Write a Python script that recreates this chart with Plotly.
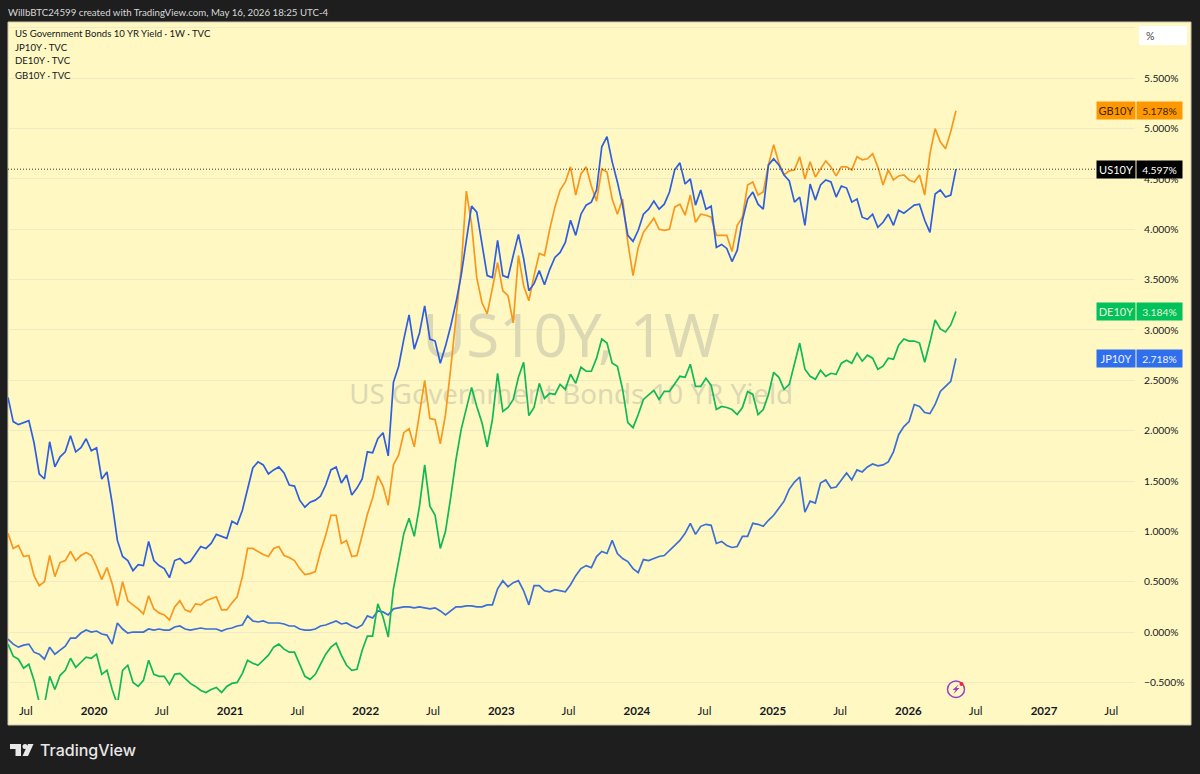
import pandas as pd
import plotly.graph_objects as go

first_date = "2019-05-14"
last_date = "2026-05-09"

us10y = [2.33,2.09,2.06,2.08,2.10,1.88,1.57,1.52,1.89,1.64,
         1.74,1.79,1.95,1.79,1.83,1.92,1.80,1.83,1.52,1.59,
         1.28,0.91,0.75,0.71,0.61,0.67,0.66,0.90,0.71,0.66,
         0.63,0.54,0.71,0.73,0.68,0.70,0.78,0.85,0.83,0.88,
         0.97,0.95,0.93,1.10,1.07,1.21,1.43,1.63,1.69,1.66,
         1.57,1.61,1.64,1.58,1.46,1.45,1.31,1.24,1.29,1.31,
         1.35,1.46,1.61,1.64,1.48,1.56,1.36,1.43,1.52,1.79,
         1.78,1.92,1.98,1.75,2.48,2.64,2.91,3.15,2.81,2.97,
         3.24,2.91,2.89,2.67,2.84,3.04,3.27,3.54,3.89,4.23,
         4.17,3.85,3.54,3.52,3.89,3.54,3.52,3.74,3.95,3.71,
         3.39,3.46,3.59,3.45,3.60,3.72,3.77,3.87,4.09,3.94,
         4.15,4.24,4.27,4.39,4.82,4.92,4.67,4.47,4.24,3.94,
         3.88,3.99,4.15,4.20,4.28,4.20,4.25,4.37,4.59,4.66,
         4.45,4.50,4.24,4.39,4.20,4.23,3.82,3.85,3.81,3.68,
         3.79,4.09,4.30,4.37,4.25,4.20,4.64,4.70,4.64,4.54,
         4.48,4.27,4.32,4.04,4.45,4.29,4.44,4.49,4.47,4.32,
         4.43,4.41,4.27,4.30,4.12,4.10,4.15,4.02,4.07,4.15,
         4.04,4.19,4.16,4.20,4.24,4.25,4.09,3.97,4.35,4.39,
         4.32,4.34,4.597]

gb10y = [0.98,0.83,0.86,0.75,0.76,0.56,0.46,0.50,0.76,0.55,
         0.69,0.71,0.80,0.71,0.76,0.79,0.76,0.65,0.52,0.64,
         0.48,0.26,0.50,0.31,0.27,0.23,0.18,0.36,0.23,0.19,
         0.17,0.12,0.25,0.31,0.22,0.20,0.28,0.27,0.31,0.33,
         0.35,0.22,0.22,0.29,0.35,0.55,0.83,0.83,0.80,0.77,
         0.75,0.83,0.85,0.76,0.74,0.71,0.63,0.57,0.58,0.60,
         0.80,0.96,1.16,1.16,0.88,0.91,0.75,0.76,0.96,1.17,
         1.33,1.55,1.45,1.26,1.66,1.76,1.98,2.02,1.84,2.18,
         2.50,2.12,2.11,1.87,2.16,2.62,3.12,3.61,4.38,4.05,
         3.52,3.27,3.16,3.41,3.67,3.39,3.34,3.07,3.74,3.44,
         3.29,3.54,3.76,3.74,4.00,4.22,4.39,4.47,4.62,4.34,
         4.55,4.62,4.43,4.28,4.60,4.57,4.30,4.15,4.30,3.87,
         3.54,3.82,3.97,4.04,4.11,4.00,3.99,4.00,4.22,4.25,
         4.14,4.34,4.07,4.15,4.14,4.12,3.94,3.94,3.94,3.78,
         4.04,4.12,4.44,4.47,4.34,4.37,4.64,4.84,4.66,4.54,
         4.58,4.59,4.72,4.50,4.67,4.52,4.60,4.68,4.62,4.53,
         4.62,4.62,4.59,4.72,4.69,4.70,4.75,4.62,4.44,4.59,
         4.49,4.53,4.54,4.49,4.47,4.54,4.34,4.75,5.00,4.87,
         4.80,4.97,5.178]

de10y = [-0.12,-0.24,-0.27,-0.36,-0.32,-0.48,-0.70,-0.72,-0.44,-0.57,
         -0.43,-0.38,-0.26,-0.35,-0.30,-0.25,-0.26,-0.22,-0.42,-0.38,
         -0.57,-0.72,-0.38,-0.33,-0.50,-0.54,-0.48,-0.28,-0.42,-0.44,
         -0.44,-0.52,-0.42,-0.41,-0.46,-0.51,-0.54,-0.58,-0.60,-0.57,
         -0.55,-0.60,-0.54,-0.51,-0.50,-0.41,-0.28,-0.31,-0.33,-0.28,
         -0.23,-0.15,-0.12,-0.17,-0.20,-0.20,-0.33,-0.44,-0.47,-0.42,
         -0.32,-0.22,-0.15,-0.11,-0.23,-0.33,-0.38,-0.37,-0.18,-0.04,
         -0.04,0.28,0.15,-0.05,0.43,0.71,0.98,1.13,0.95,1.25,
         1.66,1.25,1.16,0.83,1.00,1.34,1.71,2.01,2.21,2.43,
         2.24,2.08,1.84,2.11,2.57,2.19,2.23,2.31,2.53,2.68,
         2.15,2.23,2.47,2.32,2.37,2.36,2.46,2.41,2.56,2.47,
         2.63,2.59,2.59,2.72,2.91,2.87,2.67,2.64,2.41,2.08,
         2.03,2.16,2.31,2.36,2.40,2.31,2.39,2.39,2.46,2.54,
         2.53,2.66,2.44,2.44,2.52,2.45,2.21,2.24,2.23,2.21,
         2.16,2.23,2.39,2.36,2.16,2.21,2.36,2.58,2.53,2.41,
         2.46,2.67,2.87,2.61,2.54,2.51,2.60,2.54,2.57,2.56,
         2.67,2.70,2.67,2.77,2.69,2.75,2.72,2.61,2.64,2.72,
         2.71,2.85,2.91,2.89,2.89,2.87,2.68,2.88,3.10,3.01,
         2.98,3.05,3.184]

jp10y = [-0.07,-0.12,-0.15,-0.13,-0.12,-0.20,-0.22,-0.27,-0.15,-0.22,
         -0.18,-0.14,-0.06,-0.06,-0.01,0.02,0.00,0.01,-0.02,-0.03,
         -0.12,0.09,0.03,-0.01,0.00,0.00,0.00,0.03,0.02,0.03,
         0.02,0.02,0.05,0.06,0.03,0.02,0.03,0.04,0.03,0.03,
         0.03,0.01,0.03,0.04,0.06,0.07,0.16,0.11,0.10,0.11,
         0.09,0.09,0.09,0.08,0.06,0.06,0.03,0.02,0.02,0.03,
         0.06,0.07,0.09,0.11,0.08,0.09,0.06,0.04,0.07,0.16,
         0.14,0.21,0.20,0.17,0.23,0.24,0.25,0.25,0.24,0.25,
         0.24,0.23,0.24,0.21,0.17,0.21,0.25,0.25,0.26,0.26,
         0.25,0.25,0.27,0.27,0.43,0.51,0.45,0.49,0.51,0.41,
         0.27,0.46,0.46,0.41,0.40,0.42,0.41,0.40,0.47,0.56,
         0.63,0.66,0.64,0.75,0.80,0.78,0.91,0.78,0.73,0.70,
         0.63,0.59,0.72,0.71,0.73,0.75,0.76,0.81,0.85,0.91,
         0.98,1.08,0.97,1.05,1.07,1.06,0.88,0.90,0.86,0.84,
         0.85,0.95,0.95,1.08,1.07,1.05,1.11,1.16,1.23,1.30,
         1.42,1.49,1.54,1.19,1.30,1.28,1.48,1.51,1.43,1.44,
         1.51,1.58,1.51,1.61,1.59,1.64,1.67,1.65,1.66,1.69,
         1.79,1.96,2.04,2.09,2.26,2.24,2.18,2.17,2.26,2.39,
         2.44,2.49,2.718]

y_ticks = [-0.5, 0, 0.5, 1, 1.5, 2, 2.5, 3, 3.5, 4, 4.5, 5, 5.5, 6]
y_labels = ["−0.500%", "0.000%", "0.500%", "1.000%", "1.500%", "2.000%", "2.500%",
            "3.000%", "3.500%", "4.000%", "4.500%", "5.000%", "5.500%", ""]

x_ticks = ["2019-07-01", "2020-01-01", "2020-07-01", "2021-01-01", "2021-07-01", "2022-01-01",
           "2022-07-01", "2023-01-01", "2023-07-01", "2024-01-01", "2024-07-01", "2025-01-01",
           "2025-07-01", "2026-01-01", "2026-07-01", "2027-01-01", "2027-07-01"]
x_labels = ["Jul", "<b>2020</b>", "Jul", "<b>2021</b>", "Jul", "<b>2022</b>", "Jul", "<b>2023</b>", "Jul",
            "<b>2024</b>", "Jul", "<b>2025</b>", "Jul", "<b>2026</b>", "Jul", "<b>2027</b>", "Jul"]

legend_rows = ["US Government Bonds 10 YR Yield · 1W · TVC", "JP10Y · TVC", "DE10Y · TVC", "GB10Y · TVC"]

# name, last value, badge colour, text colour
badges = [("GB10Y", 5.178, "#ff9800", "#3b2500"),
          ("US10Y", 4.597, "#000000", "#ffffff"),
          ("DE10Y", 3.184, "#00c15a", "#e6f5d8"),
          ("JP10Y", 2.718, "#2f6fed", "#f0f4ff")]

BG = "#1e1e1e"
PANEL = "#fff8c3"
FONT = "Lato"
MARK_FONT = "Noto Sans"

# plot area in page pixels
L, R, T, B = 8, 1135, 22, 700


def px(x):
    return (x - L) / (R - L)


def py(y):
    return (B - y) / (B - T)


def path(points):
    return "M" + "L".join(f"{px(a):.5f},{py(b):.5f}" for a, b in points) + "Z"


dates = pd.date_range(first_date, last_date, periods=len(us10y))
assert len(us10y) == len(gb10y) == len(de10y) == len(jp10y)

fig = go.Figure()

# watermark goes first so the lines sit on top of it
fig.add_trace(go.Scatter(x=["2023-07-08"], y=[2.88], mode="text", text=["US10Y, 1W"],
                         textfont=dict(family=MARK_FONT, size=60, color="#dcd8b4"), hoverinfo="skip"))
fig.add_trace(go.Scatter(x=["2023-07-08"], y=[2.33], mode="text", text=["US Government Bonds 10 YR Yield"],
                         textfont=dict(family=MARK_FONT, size=27.7, color="#dcd8b4"), hoverinfo="skip"))

fig.add_trace(go.Scatter(x=dates, y=jp10y, mode="lines", line=dict(color="#3a6fd8", width=1.7)))
fig.add_trace(go.Scatter(x=dates, y=de10y, mode="lines", line=dict(color="#10b956", width=1.7)))
fig.add_trace(go.Scatter(x=dates, y=gb10y, mode="lines", line=dict(color="#f7981d", width=1.7)))
fig.add_trace(go.Scatter(x=dates, y=us10y, mode="lines", line=dict(color="#2e5fe0", width=1.7)))

shapes = [
    dict(type="rect", xref="paper", yref="paper", x0=px(8), x1=px(1191), y0=py(725), y1=py(22),
         fillcolor=PANEL, line=dict(color="#c9c6ae", width=1), layer="below"),
    # last price line
    dict(type="line", xref="paper", yref="y", x0=0, x1=px(1097), y0=us10y[-1], y1=us10y[-1],
         line=dict(color="#333333", width=1, dash="1px,2px")),
    # percent box
    dict(type="rect", xref="paper", yref="paper", x0=px(1139), x1=px(1187), y0=py(45), y1=py(26),
         fillcolor="#ffffff", line=dict(width=0)),
    # lightning button
    dict(type="circle", xref="paper", yref="paper", x0=px(947.5), x1=px(964.5), y0=py(697.5), y1=py(681),
         line=dict(color="#9c3fc4", width=1.5)),
    dict(type="path", xref="paper", yref="paper",
         path=path([(958.5, 684.5), (952.5, 690), (955.5, 690), (953.5, 694), (959.5, 688), (956.5, 688)]),
         fillcolor="#9c3fc4", line=dict(width=0)),
    dict(type="circle", xref="paper", yref="paper", x0=px(959.5), x1=px(963.5), y0=py(686), y1=py(682),
         fillcolor="#f0263c", line=dict(width=0)),
    # TradingView logo
    dict(type="path", xref="paper", yref="paper",
         path=path([(10, 744), (21, 744), (21, 756), (15.5, 756), (15.5, 749), (10, 749)]),
         fillcolor="#e8e8e8", line=dict(width=0)),
    dict(type="circle", xref="paper", yref="paper", x0=px(22.5), x1=px(27.5), y0=py(749), y1=py(744),
         fillcolor="#e8e8e8", line=dict(width=0)),
    dict(type="path", xref="paper", yref="paper",
         path=path([(28, 744), (33.5, 744), (28, 756), (22.5, 756)]),
         fillcolor="#e8e8e8", line=dict(width=0)),
]

annotations = [
    dict(text="WillbBTC24599 created with TradingView.com, May 16, 2026 18:25 UTC-4", x=px(6), y=py(12),
         font=dict(size=9.7, color="#d8d8d8")),
    dict(text="%", x=px(1144), y=py(36), font=dict(size=10.5, color="#444444")),
    dict(text="TradingView", x=px(38), y=py(749.5), font=dict(family="Inter", size=16, color="#e8e8e8", weight=500)),
]
for row, text in zip([33.5, 47, 61, 75], legend_rows):
    annotations.append(dict(text=text, x=px(13), y=py(row), font=dict(size=9.6, color="#131722")))

for name, value, colour, text_colour in badges:
    annotations.append(dict(text=name, x=px(1096), y=value, yref="y", width=38, height=17, align="center",
                            bgcolor=colour, font=dict(size=11, color=text_colour), borderpad=0))
    annotations.append(dict(text=f"{value:.3f}%", x=px(1136), y=value, yref="y", width=45, height=17, align="center",
                            bgcolor=colour, font=dict(size=10.3, color=text_colour), borderpad=0))

for a in annotations:
    a.setdefault("xref", "paper")
    a.setdefault("yref", "paper")
    a.update(showarrow=False, xanchor="left", yanchor="middle")

fig.update_layout(
    width=1200,
    height=774,
    margin=dict(l=L, r=1200 - R, t=T, b=774 - B),
    paper_bgcolor=BG,
    plot_bgcolor="rgba(0,0,0,0)",
    showlegend=False,
    hovermode=False,
    font=dict(family=FONT, color="#131722"),
    shapes=shapes,
    annotations=annotations,
    xaxis=dict(type="date", range=[first_date, "2027-09-03"], tickvals=x_ticks, ticktext=x_labels,
               showgrid=False, zeroline=False, showline=False, ticks="",
               tickfont=dict(size=11.5, color="#131722"), ticklabelstandoff=2),
    yaxis=dict(side="right", range=[-0.675, 6.059], tickvals=y_ticks, ticktext=y_labels,
               showgrid=True, gridcolor="#f0ebc4", gridwidth=1, zeroline=False, showline=False, ticks="",
               tickfont=dict(size=10.3, color="#131722"), ticklabelstandoff=8),
)

fig.write_html("out.html", config=dict(displayModeBar=False), post_script="document.body.style.margin='0';")
